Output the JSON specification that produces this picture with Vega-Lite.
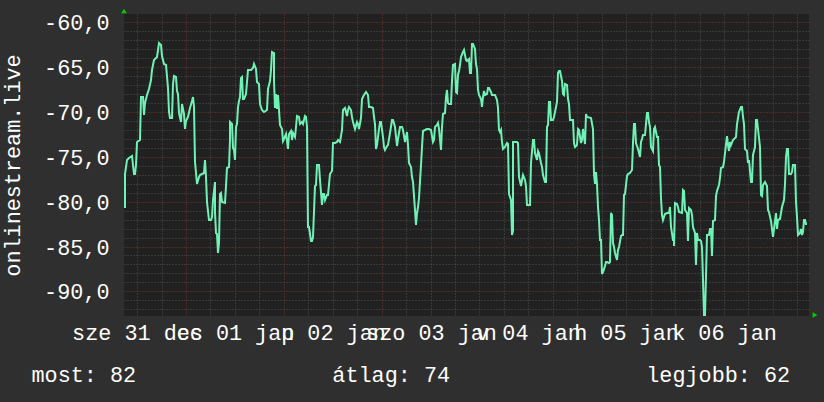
{
"$schema": "https://vega.github.io/schema/vega-lite/v6.json",
"width": 685, "height": 302,
"autosize": {"type": "none"},
"padding": {"left": 124, "top": 14, "right": 15, "bottom": 86},
"background": "#2f2f2f",
"view": {"fill": "#212121", "stroke": null},
"config": {"font": "Liberation Mono"},
"resolve": {"axis": {"x": "independent", "y": "independent"}},
"layer": [
{
"data": {"values": [
{"h":-14.96,"v":-80.7},{"h":-14.88,"v":-76.9},{"h":-14.47,"v":-75.4},{"h":-14.06,"v":-75.1},{"h":-13.16,"v":-74.9},{"h":-12.84,"v":-76.9},{"h":-12.51,"v":-76.9},{"h":-12.26,"v":-75.9},{"h":-11.94,"v":-73.3},{"h":-11.28,"v":-73.1},{"h":-10.96,"v":-68.3},{"h":-10.63,"v":-68.3},{"h":-10.38,"v":-70.3},{"h":-10.14,"v":-69.0},{"h":-9.65,"v":-68.1},{"h":-9.16,"v":-67.4},{"h":-8.67,"v":-66.4},{"h":-8.26,"v":-65.3},{"h":-7.77,"v":-64.2},{"h":-7.20,"v":-63.9},{"h":-6.79,"v":-63.1},{"h":-6.54,"v":-62.3},{"h":-6.21,"v":-62.5},{"h":-5.89,"v":-63.8},{"h":-5.40,"v":-64.6},{"h":-4.91,"v":-64.8},{"h":-4.50,"v":-67.3},{"h":-4.17,"v":-70.0},{"h":-3.92,"v":-70.7},{"h":-3.52,"v":-70.7},{"h":-3.27,"v":-66.9},{"h":-2.86,"v":-66.0},{"h":-2.53,"v":-66.1},{"h":-2.21,"v":-67.7},{"h":-1.88,"v":-68.0},{"h":-1.64,"v":-70.1},{"h":-1.23,"v":-71.1},{"h":-0.90,"v":-69.1},{"h":-0.57,"v":-70.2},{"h":-0.25,"v":-71.9},{"h":0.08,"v":-71.0},{"h":0.57,"v":-70.6},{"h":0.98,"v":-69.5},{"h":1.47,"v":-68.8},{"h":1.80,"v":-68.3},{"h":2.04,"v":-69.4},{"h":2.29,"v":-75.6},{"h":2.70,"v":-78.0},{"h":3.11,"v":-77.2},{"h":3.52,"v":-77.0},{"h":3.92,"v":-76.9},{"h":4.42,"v":-76.8},{"h":4.74,"v":-75.4},{"h":4.99,"v":-77.2},{"h":5.23,"v":-80.0},{"h":5.56,"v":-82.0},{"h":6.13,"v":-82.0},{"h":6.46,"v":-81.7},{"h":6.70,"v":-79.8},{"h":7.03,"v":-77.8},{"h":7.20,"v":-81.1},{"h":7.36,"v":-83.5},{"h":7.60,"v":-83.6},{"h":7.85,"v":-85.7},{"h":8.09,"v":-84.6},{"h":8.26,"v":-79.1},{"h":8.59,"v":-79.0},{"h":8.91,"v":-80.0},{"h":9.48,"v":-80.1},{"h":9.81,"v":-78.3},{"h":10.14,"v":-76.2},{"h":10.47,"v":-76.1},{"h":10.71,"v":-73.1},{"h":10.87,"v":-71.1},{"h":11.20,"v":-71.3},{"h":11.45,"v":-74.0},{"h":11.69,"v":-74.2},{"h":11.94,"v":-75.4},{"h":12.18,"v":-71.7},{"h":12.51,"v":-71.3},{"h":12.76,"v":-69.4},{"h":13.08,"v":-68.8},{"h":13.33,"v":-68.3},{"h":13.57,"v":-66.2},{"h":13.82,"v":-66.1},{"h":13.98,"v":-68.5},{"h":14.31,"v":-68.6},{"h":14.72,"v":-68.0},{"h":14.96,"v":-66.7},{"h":15.21,"v":-65.3},{"h":15.86,"v":-65.3},{"h":16.35,"v":-65.1},{"h":16.76,"v":-64.6},{"h":17.17,"v":-65.2},{"h":17.42,"v":-66.7},{"h":17.83,"v":-66.9},{"h":18.15,"v":-69.1},{"h":18.56,"v":-69.8},{"h":19.13,"v":-70.0},{"h":19.87,"v":-69.8},{"h":20.20,"v":-67.4},{"h":20.61,"v":-66.5},{"h":20.93,"v":-65.3},{"h":21.18,"v":-63.3},{"h":21.50,"v":-63.4},{"h":21.67,"v":-66.5},{"h":21.83,"v":-69.6},{"h":22.08,"v":-68.0},{"h":22.32,"v":-69.7},{"h":22.57,"v":-68.1},{"h":22.81,"v":-69.8},{"h":23.14,"v":-71.4},{"h":23.47,"v":-71.9},{"h":23.71,"v":-73.2},{"h":24.12,"v":-73.0},{"h":24.45,"v":-72.4},{"h":24.69,"v":-73.2},{"h":25.10,"v":-74.1},{"h":25.35,"v":-72.4},{"h":25.67,"v":-72.1},{"h":26.00,"v":-73.1},{"h":26.33,"v":-72.3},{"h":26.66,"v":-72.8},
{"h":26.98,"v":-71.7},{"h":27.31,"v":-70.4},{"h":27.64,"v":-70.6},{"h":27.96,"v":-71.3},{"h":28.37,"v":-71.1},{"h":28.78,"v":-71.3},{"h":29.11,"v":-70.5},{"h":29.44,"v":-70.6},{"h":29.76,"v":-71.7},{"h":30.01,"v":-82.8},{"h":30.25,"v":-82.8},{"h":30.58,"v":-84.4},{"h":30.99,"v":-84.4},{"h":31.24,"v":-83.9},{"h":31.56,"v":-78.3},{"h":31.89,"v":-78.1},{"h":32.22,"v":-75.9},{"h":32.71,"v":-75.9},{"h":32.95,"v":-77.6},{"h":33.28,"v":-80.4},{"h":33.52,"v":-79.1},{"h":33.85,"v":-79.1},{"h":34.18,"v":-79.8},{"h":34.51,"v":-79.3},{"h":34.91,"v":-79.3},{"h":35.32,"v":-76.9},{"h":35.81,"v":-76.6},{"h":36.14,"v":-73.5},{"h":36.55,"v":-73.5},{"h":36.96,"v":-73.3},{"h":37.37,"v":-73.1},{"h":37.78,"v":-73.3},{"h":38.18,"v":-72.0},{"h":38.59,"v":-69.8},{"h":39.00,"v":-69.6},{"h":39.41,"v":-70.4},{"h":39.82,"v":-69.8},{"h":40.06,"v":-69.4},{"h":40.39,"v":-69.8},{"h":40.72,"v":-70.6},{"h":41.05,"v":-71.1},{"h":41.46,"v":-71.9},{"h":41.86,"v":-71.1},{"h":42.27,"v":-71.3},{"h":42.52,"v":-71.9},{"h":42.84,"v":-70.7},{"h":43.17,"v":-68.5},{"h":43.66,"v":-68.1},{"h":44.15,"v":-67.8},{"h":44.64,"v":-68.1},{"h":44.97,"v":-69.4},{"h":45.38,"v":-69.4},{"h":45.79,"v":-69.6},{"h":46.12,"v":-70.6},{"h":46.44,"v":-71.3},{"h":46.61,"v":-74.1},{"h":46.93,"v":-73.7},{"h":47.26,"v":-71.9},{"h":47.59,"v":-71.1},{"h":47.91,"v":-71.1},{"h":48.24,"v":-72.8},{"h":48.57,"v":-73.9},{"h":48.90,"v":-74.2},{"h":49.22,"v":-73.8},{"h":49.63,"v":-73.7},{"h":50.04,"v":-72.3},{"h":50.45,"v":-70.9},{"h":50.86,"v":-70.9},{"h":51.27,"v":-71.7},{"h":51.68,"v":-73.8},{"h":52.08,"v":-73.0},{"h":52.49,"v":-71.7},{"h":52.90,"v":-71.7},{"h":53.31,"v":-72.0},{"h":53.72,"v":-73.3},{"h":54.13,"v":-72.2},{"h":54.46,"v":-73.7},{"h":54.78,"v":-75.7},{"h":55.11,"v":-76.1},{"h":55.44,"v":-77.2},{"h":55.76,"v":-77.8},{"h":56.09,"v":-80.9},{"h":56.34,"v":-82.6},{"h":56.58,"v":-81.3},{"h":56.91,"v":-80.6},{"h":57.24,"v":-79.6},{"h":57.56,"v":-75.9},{"h":57.89,"v":-73.9},{"h":58.22,"v":-72.1},{"h":58.63,"v":-72.0},{"h":59.20,"v":-71.9},{"h":59.69,"v":-71.9},{"h":60.01,"v":-72.0},{"h":60.50,"v":-73.3},{"h":60.83,"v":-73.1},{"h":61.16,"v":-71.7},{"h":61.49,"v":-71.5},{"h":61.82,"v":-71.2},{"h":62.14,"v":-71.9},{"h":62.47,"v":-74.2},{"h":62.80,"v":-71.7},{"h":63.12,"v":-70.2},{"h":63.45,"v":-70.1},{"h":63.70,"v":-68.3},{"h":63.94,"v":-67.6},{"h":64.27,"v":-69.0},{"h":64.60,"v":-69.1},{"h":64.92,"v":-69.1},{"h":65.25,"v":-66.5},{"h":65.58,"v":-64.8},{"h":65.90,"v":-64.6},{"h":66.15,"v":-67.8},{"h":66.39,"v":-67.9},{"h":66.64,"v":-65.9},{"h":66.97,"v":-65.4},{"h":67.21,"v":-64.8},{"h":67.54,"v":-63.9},{"h":67.87,"v":-63.3},{"h":68.19,"v":-63.1},
{"h":68.27,"v":-63.1},{"h":68.68,"v":-64.2},{"h":69.01,"v":-64.3},{"h":69.34,"v":-64.1},{"h":69.66,"v":-65.6},{"h":69.91,"v":-65.6},{"h":70.16,"v":-62.4},{"h":70.48,"v":-62.4},{"h":70.81,"v":-63.0},{"h":71.06,"v":-64.6},{"h":71.38,"v":-65.2},{"h":71.63,"v":-67.6},{"h":71.95,"v":-68.1},{"h":72.28,"v":-68.5},{"h":72.61,"v":-69.4},{"h":72.85,"v":-68.3},{"h":73.10,"v":-67.7},{"h":73.43,"v":-68.1},{"h":73.75,"v":-68.0},{"h":74.08,"v":-67.3},{"h":74.41,"v":-67.3},{"h":74.73,"v":-67.8},{"h":75.06,"v":-68.1},{"h":75.88,"v":-68.1},{"h":76.21,"v":-68.7},{"h":76.45,"v":-69.6},{"h":76.70,"v":-72.0},{"h":77.02,"v":-72.2},{"h":77.35,"v":-72.0},{"h":77.60,"v":-73.3},{"h":77.84,"v":-74.1},{"h":78.25,"v":-73.9},{"h":78.66,"v":-73.5},{"h":78.99,"v":-73.6},{"h":79.31,"v":-79.1},{"h":79.64,"v":-79.8},{"h":79.89,"v":-83.7},{"h":80.13,"v":-83.3},{"h":80.29,"v":-73.3},{"h":80.70,"v":-73.3},{"h":81.11,"v":-73.3},{"h":81.52,"v":-73.5},{"h":81.77,"v":-77.2},{"h":82.09,"v":-78.3},{"h":82.42,"v":-77.6},{"h":82.75,"v":-77.0},{"h":83.07,"v":-77.6},{"h":83.40,"v":-78.3},{"h":83.65,"v":-80.4},{"h":83.97,"v":-80.4},{"h":84.38,"v":-80.4},{"h":84.71,"v":-75.7},{"h":85.04,"v":-73.1},{"h":85.36,"v":-73.1},{"h":85.69,"v":-74.6},{"h":86.02,"v":-75.4},{"h":86.35,"v":-74.3},{"h":86.67,"v":-74.6},{"h":87.00,"v":-75.7},{"h":87.33,"v":-76.1},{"h":87.65,"v":-77.0},{"h":87.98,"v":-77.8},{"h":88.31,"v":-77.8},{"h":88.55,"v":-71.7},{"h":88.80,"v":-71.5},{"h":89.04,"v":-68.9},{"h":89.37,"v":-68.9},{"h":89.62,"v":-70.9},{"h":89.94,"v":-70.9},{"h":90.27,"v":-70.6},{"h":90.60,"v":-70.0},{"h":90.92,"v":-68.9},{"h":91.17,"v":-65.6},{"h":91.50,"v":-65.4},{"h":91.82,"v":-65.4},{"h":92.15,"v":-66.5},{"h":92.40,"v":-68.0},{"h":92.72,"v":-68.1},{"h":93.05,"v":-66.9},{"h":93.38,"v":-67.0},{"h":93.70,"v":-68.5},{"h":94.03,"v":-69.1},{"h":94.28,"v":-70.9},{"h":94.93,"v":-70.9},{"h":95.18,"v":-73.5},{"h":95.42,"v":-73.9},{"h":95.83,"v":-73.7},{"h":96.16,"v":-71.9},{"h":96.48,"v":-72.0},{"h":96.81,"v":-73.5},{"h":97.14,"v":-73.1},{"h":97.46,"v":-71.9},{"h":97.79,"v":-73.6},{"h":98.04,"v":-70.2},{"h":98.36,"v":-70.6},{"h":99.43,"v":-70.7},{"h":99.75,"v":-71.9},{"h":100.00,"v":-76.9},{"h":100.25,"v":-78.0},{"h":100.49,"v":-76.7},{"h":100.74,"v":-78.0},{"h":100.98,"v":-80.6},{"h":101.31,"v":-82.0},{"h":101.55,"v":-84.3},{"h":101.80,"v":-84.3},{"h":102.04,"v":-88.1},{"h":102.37,"v":-87.8},{"h":102.70,"v":-87.2},{"h":103.03,"v":-86.7},{"h":103.35,"v":-86.7},{"h":103.68,"v":-86.8},{"h":104.01,"v":-86.7},{"h":104.25,"v":-81.3},{"h":104.50,"v":-81.5},{"h":104.74,"v":-84.6},{"h":104.99,"v":-85.0},{"h":105.31,"v":-85.7},{"h":105.64,"v":-86.5},{"h":105.97,"v":-85.4},{"h":106.30,"v":-85.0},{"h":106.62,"v":-83.8},{"h":107.03,"v":-83.7},{"h":107.28,"v":-83.7},{"h":107.52,"v":-79.3},{"h":107.77,"v":-79.1},{"h":108.09,"v":-77.1},{"h":108.50,"v":-76.9},{"h":108.91,"v":-76.8},{"h":109.32,"v":-76.5},{"h":109.57,"v":-73.5},{"h":109.89,"v":-71.3},
{"h":110.22,"v":-71.3},{"h":110.47,"v":-73.5},{"h":110.79,"v":-74.1},{"h":111.04,"v":-74.6},{"h":111.28,"v":-75.0},{"h":111.53,"v":-73.3},{"h":111.86,"v":-73.0},{"h":112.18,"v":-72.6},{"h":112.59,"v":-72.6},{"h":112.84,"v":-71.3},{"h":113.00,"v":-70.1},{"h":113.25,"v":-70.1},{"h":113.49,"v":-71.1},{"h":113.82,"v":-71.7},{"h":114.06,"v":-73.9},{"h":114.39,"v":-74.1},{"h":114.64,"v":-74.3},{"h":114.88,"v":-71.9},{"h":115.13,"v":-71.7},{"h":115.45,"v":-72.8},{"h":115.70,"v":-72.8},{"h":115.94,"v":-75.9},{"h":116.27,"v":-76.1},{"h":116.52,"v":-79.6},{"h":116.84,"v":-81.5},{"h":117.09,"v":-82.0},{"h":117.42,"v":-81.4},{"h":118.07,"v":-81.3},{"h":118.40,"v":-81.3},{"h":118.72,"v":-80.6},{"h":119.05,"v":-82.8},{"h":119.38,"v":-84.3},{"h":119.62,"v":-84.3},{"h":119.79,"v":-84.9},{"h":120.03,"v":-80.2},{"h":120.36,"v":-80.3},{"h":120.69,"v":-80.6},{"h":121.01,"v":-81.2},{"h":121.67,"v":-81.3},{"h":122.00,"v":-78.7},{"h":122.24,"v":-78.8},{"h":122.49,"v":-80.9},{"h":122.81,"v":-81.3},{"h":123.14,"v":-84.4},{"h":123.47,"v":-80.7},{"h":123.79,"v":-80.9},{"h":124.12,"v":-81.5},{"h":124.45,"v":-82.8},{"h":124.77,"v":-83.5},{"h":125.10,"v":-87.1},{"h":125.35,"v":-83.5},{"h":125.67,"v":-84.3},{"h":126.08,"v":-84.3},{"h":126.41,"v":-84.4},{"h":126.66,"v":-85.0},{"h":126.90,"v":-88.7},{"h":127.15,"v":-92.6},{"h":127.39,"v":-92.6},{"h":127.64,"v":-88.3},{"h":127.88,"v":-83.7},{"h":128.21,"v":-83.7},{"h":128.54,"v":-83.1},{"h":128.86,"v":-83.1},{"h":129.11,"v":-86.1},{"h":129.35,"v":-82.2},{"h":129.68,"v":-82.0},{"h":130.01,"v":-79.4},{"h":130.34,"v":-78.8},{"h":130.66,"v":-78.1},{"h":130.99,"v":-77.4},{"h":131.32,"v":-76.3},{"h":131.64,"v":-76.1},{"h":131.97,"v":-75.6},{"h":132.30,"v":-74.6},{"h":132.62,"v":-72.7},{"h":132.87,"v":-73.7},{"h":133.12,"v":-74.4},{"h":133.36,"v":-73.3},{"h":133.69,"v":-73.7},{"h":134.26,"v":-73.1},{"h":134.83,"v":-72.8},{"h":135.08,"v":-71.3},{"h":135.40,"v":-70.7},{"h":135.73,"v":-70.0},{"h":136.06,"v":-69.4},{"h":136.30,"v":-69.4},{"h":136.55,"v":-70.6},{"h":136.88,"v":-71.3},{"h":137.12,"v":-74.1},{"h":137.53,"v":-74.3},{"h":137.86,"v":-75.7},{"h":138.18,"v":-75.4},{"h":138.51,"v":-77.8},{"h":138.76,"v":-77.8},{"h":139.00,"v":-74.8},{"h":139.33,"v":-74.3},{"h":139.66,"v":-73.9},{"h":139.90,"v":-70.9},{"h":140.15,"v":-70.9},{"h":140.47,"v":-72.9},{"h":140.72,"v":-73.9},{"h":140.96,"v":-79.3},{"h":141.21,"v":-79.4},{"h":141.46,"v":-78.1},{"h":142.11,"v":-77.8},{"h":142.44,"v":-78.3},{"h":142.76,"v":-80.9},{"h":143.09,"v":-81.2},{"h":143.42,"v":-82.2},{"h":143.74,"v":-83.0},{"h":144.07,"v":-83.9},{"h":144.40,"v":-82.2},{"h":144.64,"v":-81.3},{"h":144.97,"v":-83.0},{"h":145.30,"v":-82.0},{"h":145.62,"v":-81.9},{"h":145.95,"v":-81.3},{"h":146.28,"v":-80.6},{"h":146.61,"v":-79.8},{"h":146.93,"v":-78.0},{"h":147.18,"v":-75.0},{"h":147.51,"v":-74.1},{"h":147.75,"v":-74.1},{"h":148.00,"v":-76.9},{"h":148.32,"v":-76.9},{"h":148.65,"v":-76.7},{"h":148.98,"v":-75.9},{"h":149.30,"v":-75.9},{"h":149.55,"v":-80.0},{"h":149.88,"v":-81.7},{"h":150.20,"v":-83.7},{"h":150.53,"v":-83.5},{"h":150.78,"v":-83.0},{"h":151.02,"v":-83.7},{"h":151.27,"v":-83.4},{"h":151.51,"v":-82.0},{"h":151.84,"v":-82.0},{"h":152.17,"v":-82.5},{"h":152.41,"v":-82.5}
]},
"mark": {"type": "line", "color": "#6ff2b5", "strokeWidth": 2, "interpolate": "linear"},
"encoding": {
"x": {"field": "h", "type": "quantitative",
 "scale": {"domain": [-15.2, 152.85], "nice": false, "zero": false, "round": true},
 "axis": {
  "orient": "bottom",
  "values": [0,24,48,72,96,120,144],
  "grid": true, "gridColor": "#7d3636",
  "gridDash": [1, 2], "gridWidth": 1,
  "domain": false, "ticks": false, "labels": false,
  "title": "most: 82\u00a0\u00a0\u00a0\u00a0\u00a0\u00a0\u00a0\u00a0\u00a0\u00a0\u00a0\u00a0\u00a0\u00a0\u00a0átlag: 74\u00a0\u00a0\u00a0\u00a0\u00a0\u00a0\u00a0\u00a0\u00a0\u00a0\u00a0\u00a0\u00a0\u00a0\u00a0legjobb: 62",
  "titleFont": "Liberation Mono", "titleFontSize": 21.8, "titleFontWeight": "normal", "titleColor": "#ffffff",
  "titleAnchor": "start", "titleAlign": "left", "titleBaseline": "alphabetic", "titleX": -93, "titleY": 65
 }},
"y": {"field": "v", "type": "quantitative",
 "scale": {"domain": [-92.75, -59.07], "nice": false, "zero": false, "round": true},
 "axis": {
  "orient": "left",
  "values": [-90,-85,-80,-75,-70,-65,-60],
  "grid": true, "gridColor": "#7d3636",
  "gridDash": [1, 2], "gridWidth": 1,
  "domain": false, "ticks": false, "tickSize": 0,
  "labelExpr": "'-' + replace(format(abs(datum.value), '.1f'), '.', ',')",
  "labelOverlap": false, "labelFlush": false, "labelBound": false,
  "labelPadding": 15, "labelBaseline": "middle", "labelAlign": "right",
  "labelFont": "Liberation Mono", "labelFontSize": 21.8, "labelColor": "#ffffff",
  "title": "onlinestream.live",
  "titleFont": "Liberation Mono", "titleFontSize": 21.8, "titleFontWeight": "normal", "titleColor": "#ffffff",
  "titleAngle": -90, "titleAlign": "center", "titleBaseline": "alphabetic", "titleX": -104.5, "titleY": 151
 }}
}
},
{
"data": {"values": [{}]},
"mark": {"type": "point", "shape": "triangle-up", "filled": true, "color": "#00d000", "opacity": 1, "size": 30},
"encoding": {
 "x": {"datum": -15.2, "type": "quantitative",
  "axis": {
   "orient": "bottom",
   "values": [-12,-6,6,12,18,30,36,42,54,60,66,78,84,90,102,108,114,126,132,138,150],
   "grid": true, "gridColor": "#505050", "gridDash": [1, 2], "gridWidth": 1,
   "domain": false, "ticks": false, "tickSize": 0, "title": null,
   "labelExpr": "(datum.value + 12) % 24 === 0 ? ['sze 31 dec','cs 01 jan','p 02 jan','szo 03 jan','v 04 jan','h 05 jan','k 06 jan'][(datum.value + 12) / 24] : ''",
   "labelOverlap": false, "labelFlush": false, "labelBound": false,
   "labelPadding": 23.5, "labelBaseline": "alphabetic", "labelAlign": "center",
   "labelFont": "Liberation Mono", "labelFontSize": 21.8, "labelColor": "#ffffff"
  }},
 "y": {"datum": -58.7, "type": "quantitative",
  "axis": {
   "orient": "left",
   "values": [-92,-91,-89,-88,-87,-86,-84,-83,-82,-81,-79,-78,-77,-76,-74,-73,-72,-71,-69,-68,-67,-66,-64,-63,-62,-61],
   "grid": true, "gridColor": "#505050", "gridDash": [1, 2], "gridWidth": 1,
   "domain": false, "ticks": false, "labels": false, "title": null
  }}
}
},
{
"data": {"values": [{}]},
"mark": {"type": "point", "shape": "triangle-right", "filled": true, "color": "#00d000", "opacity": 1, "size": 30},
"encoding": {"x": {"datum": 154.2, "type": "quantitative", "axis": null}, "y": {"datum": -92.6, "type": "quantitative", "axis": null}}
}
]
}
